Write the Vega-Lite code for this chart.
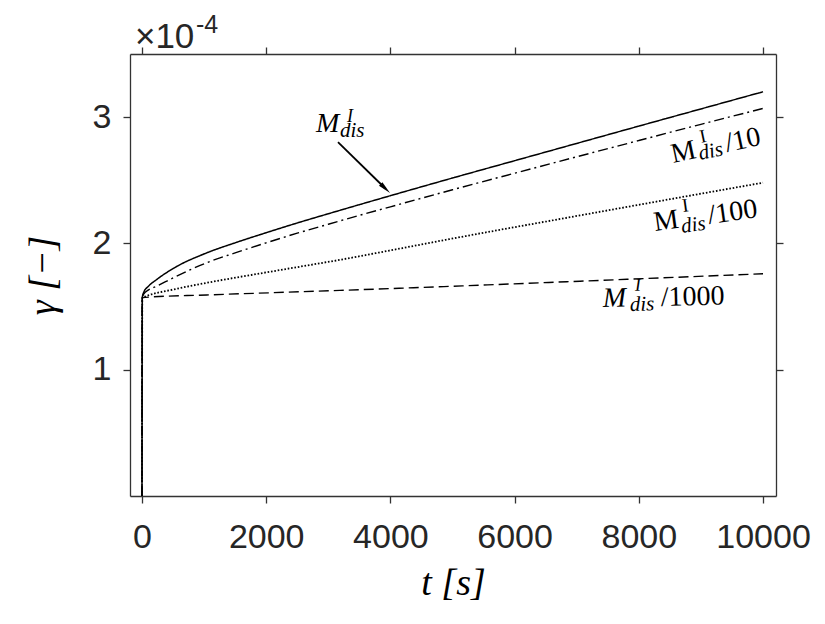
{
  "$schema": "https://vega.github.io/schema/vega-lite/v6.json",
  "width": 646,
  "height": 442,
  "autosize": "none",
  "padding": {"left": 130, "top": 54, "right": 49, "bottom": 128},
  "background": "white",
  "config": {
    "view": {"stroke": null},
    "axis": {
      "grid": false,
      "domainColor": "#333333",
      "domainWidth": 1.3,
      "tickColor": "#333333",
      "tickWidth": 1.3,
      "tickSize": 7,
      "labelFont": "Liberation Sans",
      "labelFontSize": 34,
      "labelColor": "#262626",
      "titleFont": "Liberation Serif",
      "titleFontSize": 38,
      "titleFontWeight": "normal",
      "titleFontStyle": "italic",
      "titleColor": "black"
    }
  },
  "datasets": {
    "curves": [
      {"series": "M", "t": 0, "g": 0},
      {"series": "M", "t": 5, "g": 0.0001571},
      {"series": "M", "t": 30, "g": 0.0001615},
      {"series": "M", "t": 100, "g": 0.0001659},
      {"series": "M", "t": 236, "g": 0.0001714},
      {"series": "M", "t": 504, "g": 0.0001802},
      {"series": "M", "t": 1041, "g": 0.0001925},
      {"series": "M", "t": 1500, "g": 0.0002005},
      {"series": "M", "t": 2000, "g": 0.0002085},
      {"series": "M", "t": 2500, "g": 0.0002162},
      {"series": "M", "t": 3000, "g": 0.0002235},
      {"series": "M", "t": 3500, "g": 0.0002307},
      {"series": "M", "t": 4000, "g": 0.0002378},
      {"series": "M", "t": 5000, "g": 0.0002518},
      {"series": "M", "t": 6000, "g": 0.0002655},
      {"series": "M", "t": 7000, "g": 0.0002792},
      {"series": "M", "t": 8000, "g": 0.0002929},
      {"series": "M", "t": 9000, "g": 0.0003065},
      {"series": "M", "t": 10000, "g": 0.0003201},
      {"series": "M/10", "t": 0, "g": 0},
      {"series": "M/10", "t": 5, "g": 0.0001571},
      {"series": "M/10", "t": 30, "g": 0.0001600},
      {"series": "M/10", "t": 100, "g": 0.0001630},
      {"series": "M/10", "t": 236, "g": 0.0001661},
      {"series": "M/10", "t": 504, "g": 0.0001728},
      {"series": "M/10", "t": 1041, "g": 0.0001847},
      {"series": "M/10", "t": 1500, "g": 0.0001925},
      {"series": "M/10", "t": 2000, "g": 0.0002005},
      {"series": "M/10", "t": 2500, "g": 0.0002081},
      {"series": "M/10", "t": 3000, "g": 0.0002152},
      {"series": "M/10", "t": 3500, "g": 0.0002222},
      {"series": "M/10", "t": 4000, "g": 0.0002290},
      {"series": "M/10", "t": 5000, "g": 0.0002425},
      {"series": "M/10", "t": 6000, "g": 0.0002556},
      {"series": "M/10", "t": 7000, "g": 0.0002686},
      {"series": "M/10", "t": 8000, "g": 0.0002815},
      {"series": "M/10", "t": 9000, "g": 0.0002943},
      {"series": "M/10", "t": 10000, "g": 0.0003069},
      {"series": "M/100", "t": 0, "g": 0},
      {"series": "M/100", "t": 5, "g": 0.0001571},
      {"series": "M/100", "t": 60, "g": 0.0001582},
      {"series": "M/100", "t": 504, "g": 0.0001635},
      {"series": "M/100", "t": 1041, "g": 0.0001688},
      {"series": "M/100", "t": 1578, "g": 0.0001735},
      {"series": "M/100", "t": 2114, "g": 0.0001780},
      {"series": "M/100", "t": 2652, "g": 0.0001825},
      {"series": "M/100", "t": 3188, "g": 0.0001870},
      {"series": "M/100", "t": 4000, "g": 0.0001945},
      {"series": "M/100", "t": 4960, "g": 0.0002035},
      {"series": "M/100", "t": 7053, "g": 0.0002222},
      {"series": "M/100", "t": 8500, "g": 0.0002350},
      {"series": "M/100", "t": 10000, "g": 0.0002481},
      {"series": "M/1000", "t": 0, "g": 0},
      {"series": "M/1000", "t": 5, "g": 0.0001571},
      {"series": "M/1000", "t": 1041, "g": 0.0001592},
      {"series": "M/1000", "t": 2114, "g": 0.0001610},
      {"series": "M/1000", "t": 3188, "g": 0.0001628},
      {"series": "M/1000", "t": 4960, "g": 0.0001660},
      {"series": "M/1000", "t": 7053, "g": 0.0001701},
      {"series": "M/1000", "t": 10000, "g": 0.0001760}
    ],
    "labels": [
      {"label": "M", "piece": "M", "t": 2802, "g": 0.0002882},
      {"label": "M", "piece": "I", "t": 3301, "g": 0.0002962},
      {"label": "M", "piece": "dis", "t": 3188, "g": 0.0002843},
      {"label": "M/10", "piece": "M", "t": 8551, "g": 0.0002637},
      {"label": "M/10", "piece": "I", "t": 9000, "g": 0.0002795},
      {"label": "M/10", "piece": "dis", "t": 8985, "g": 0.0002660},
      {"label": "M/10", "piece": "/10", "t": 9420, "g": 0.0002724},
      {"label": "M/100", "piece": "M", "t": 8261, "g": 0.0002098},
      {"label": "M/100", "piece": "I", "t": 8712, "g": 0.0002249},
      {"label": "M/100", "piece": "dis", "t": 8696, "g": 0.0002082},
      {"label": "M/100", "piece": "/100", "t": 9130, "g": 0.0002154},
      {"label": "M/1000", "piece": "M", "t": 7424, "g": 0.0001497},
      {"label": "M/1000", "piece": "I", "t": 7940, "g": 0.0001625},
      {"label": "M/1000", "piece": "dis", "t": 7858, "g": 0.0001465},
      {"label": "M/1000", "piece": "/1000", "t": 8357, "g": 0.0001504}
    ],
    "arrow": [
      {"t": 3156, "g": 0.0002803, "t2": 3919, "g2": 0.0002435}
    ],
    "exponent": [
      {"piece": "×10", "t": -113, "g": 0.0003547},
      {"piece": "-4", "t": 870, "g": 0.0003666}
    ]
  },
  "layer": [
    {
      "data": {"name": "curves"},
      "mark": {"type": "line", "color": "black", "clip": true, "interpolate": "monotone"},
      "encoding": {
        "x": {
          "field": "t", "type": "quantitative",
          "scale": {"domain": [-193, 10209], "nice": false, "zero": false},
          "axis": {"orient": "bottom", "values": [0, 2000, 4000, 6000, 8000, 10000], "format": "d", "labelPadding": 17, "title": "t [s]", "titlePadding": 10}
        },
        "y": {
          "field": "g", "type": "quantitative",
          "scale": {"domain": [0, 0.00035], "nice": false, "zero": false},
          "axis": {"orient": "left", "values": [0.0001, 0.0002, 0.0003], "labelExpr": "format(datum.value * 10000, '.0f')", "labelPadding": 12, "title": "γ [−]", "titlePadding": 30}
        },
        "detail": {"field": "series"},
        "strokeDash": {
          "field": "series", "type": "nominal",
          "scale": {"domain": ["M", "M/10", "M/100", "M/1000"], "range": [[1, 0], [10, 4, 2, 4], [1.6, 1.8], [10, 5]]},
          "legend": null
        },
        "strokeWidth": {
          "field": "series", "type": "nominal",
          "scale": {"type": "ordinal", "domain": ["M", "M/10", "M/100", "M/1000"], "range": [1.5, 1.4, 1.8, 1.4]},
          "legend": null
        }
      }
    },
    {
      "data": {"name": "arrow"},
      "mark": {"type": "rule", "color": "black", "strokeWidth": 1.8},
      "encoding": {
        "x": {"field": "t", "type": "quantitative", "axis": {"orient": "top", "labels": false, "title": null, "values": [0, 2000, 4000, 6000, 8000, 10000]}},
        "y": {"field": "g", "type": "quantitative", "axis": {"orient": "right", "labels": false, "title": null, "values": [0.0001, 0.0002, 0.0003]}},
        "x2": {"field": "t2"},
        "y2": {"field": "g2"}
      }
    },
    {
      "data": {"name": "arrow"},
      "mark": {"type": "point", "shape": "M0,-1L0.38,1L-0.38,1Z", "filled": true, "color": "black", "opacity": 1, "size": 169, "angle": 134},
      "encoding": {
        "x": {"field": "t2", "type": "quantitative", "axis": null},
        "y": {"field": "g2", "type": "quantitative", "axis": null}
      }
    },
    {
      "data": {"name": "labels"},
      "transform": [{"filter": "datum.piece == 'M' && (datum.label == 'M' || datum.label == 'M/1000')"}],
      "mark": {"type": "text", "font": "Liberation Serif", "fontStyle": "italic", "fontSize": 28, "align": "left", "baseline": "alphabetic", "color": "black"},
      "encoding": {
        "x": {"field": "t", "type": "quantitative", "axis": null},
        "y": {"field": "g", "type": "quantitative", "axis": null},
        "text": {"field": "piece"},
        "angle": {"condition": [{"test": "datum.label == 'M/10'", "value": 348}, {"test": "datum.label == 'M/100'", "value": 352}, {"test": "datum.label == 'M/1000'", "value": 358.5}], "value": 0}
      }
    },
    {
      "data": {"name": "labels"},
      "transform": [{"filter": "(datum.piece == 'M' && (datum.label == 'M/10' || datum.label == 'M/100')) || indexof(datum.piece, '/') == 0"}],
      "mark": {"type": "text", "font": "Liberation Serif", "fontSize": 28, "align": "left", "baseline": "alphabetic", "color": "black"},
      "encoding": {
        "x": {"field": "t", "type": "quantitative", "axis": null},
        "y": {"field": "g", "type": "quantitative", "axis": null},
        "text": {"field": "piece"},
        "angle": {"condition": [{"test": "datum.label == 'M/10'", "value": 348}, {"test": "datum.label == 'M/100'", "value": 352}, {"test": "datum.label == 'M/1000'", "value": 358.5}], "value": 0}
      }
    },
    {
      "data": {"name": "labels"},
      "transform": [{"filter": "datum.piece == 'dis'"}],
      "mark": {"type": "text", "font": "Liberation Serif", "fontStyle": "italic", "fontSize": 21, "align": "left", "baseline": "alphabetic", "color": "black"},
      "encoding": {
        "x": {"field": "t", "type": "quantitative", "axis": null},
        "y": {"field": "g", "type": "quantitative", "axis": null},
        "text": {"field": "piece"},
        "angle": {"condition": [{"test": "datum.label == 'M/10'", "value": 348}, {"test": "datum.label == 'M/100'", "value": 352}, {"test": "datum.label == 'M/1000'", "value": 358.5}], "value": 0}
      }
    },
    {
      "data": {"name": "labels"},
      "transform": [{"filter": "datum.piece == 'I' && (datum.label == 'M' || datum.label == 'M/1000')"}],
      "mark": {"type": "text", "font": "Liberation Serif", "fontStyle": "italic", "fontSize": 18, "align": "left", "baseline": "alphabetic", "color": "black"},
      "encoding": {
        "x": {"field": "t", "type": "quantitative", "axis": null},
        "y": {"field": "g", "type": "quantitative", "axis": null},
        "text": {"field": "piece"},
        "angle": {"condition": [{"test": "datum.label == 'M/1000'", "value": 358.5}], "value": 0}
      }
    },
    {
      "data": {"name": "labels"},
      "transform": [{"filter": "datum.piece == 'I' && (datum.label == 'M/10' || datum.label == 'M/100')"}],
      "mark": {"type": "text", "font": "Liberation Serif", "fontSize": 19, "align": "left", "baseline": "alphabetic", "color": "black"},
      "encoding": {
        "x": {"field": "t", "type": "quantitative", "axis": null},
        "y": {"field": "g", "type": "quantitative", "axis": null},
        "text": {"field": "piece"},
        "angle": {"condition": [{"test": "datum.label == 'M/10'", "value": 348}, {"test": "datum.label == 'M/100'", "value": 352}], "value": 0}
      }
    },
    {
      "data": {"name": "exponent"},
      "transform": [{"filter": "datum.piece == '×10'"}],
      "mark": {"type": "text", "font": "Liberation Sans", "fontSize": 35, "align": "left", "baseline": "alphabetic", "color": "#262626"},
      "encoding": {
        "x": {"field": "t", "type": "quantitative", "axis": null},
        "y": {"field": "g", "type": "quantitative", "axis": null},
        "text": {"field": "piece"}
      }
    },
    {
      "data": {"name": "exponent"},
      "transform": [{"filter": "datum.piece == '-4'"}],
      "mark": {"type": "text", "font": "Liberation Sans", "fontSize": 25, "align": "left", "baseline": "alphabetic", "color": "#262626"},
      "encoding": {
        "x": {"field": "t", "type": "quantitative", "axis": null},
        "y": {"field": "g", "type": "quantitative", "axis": null},
        "text": {"field": "piece"}
      }
    }
  ],
  "resolve": {"axis": {"x": "independent", "y": "independent"}}
}
